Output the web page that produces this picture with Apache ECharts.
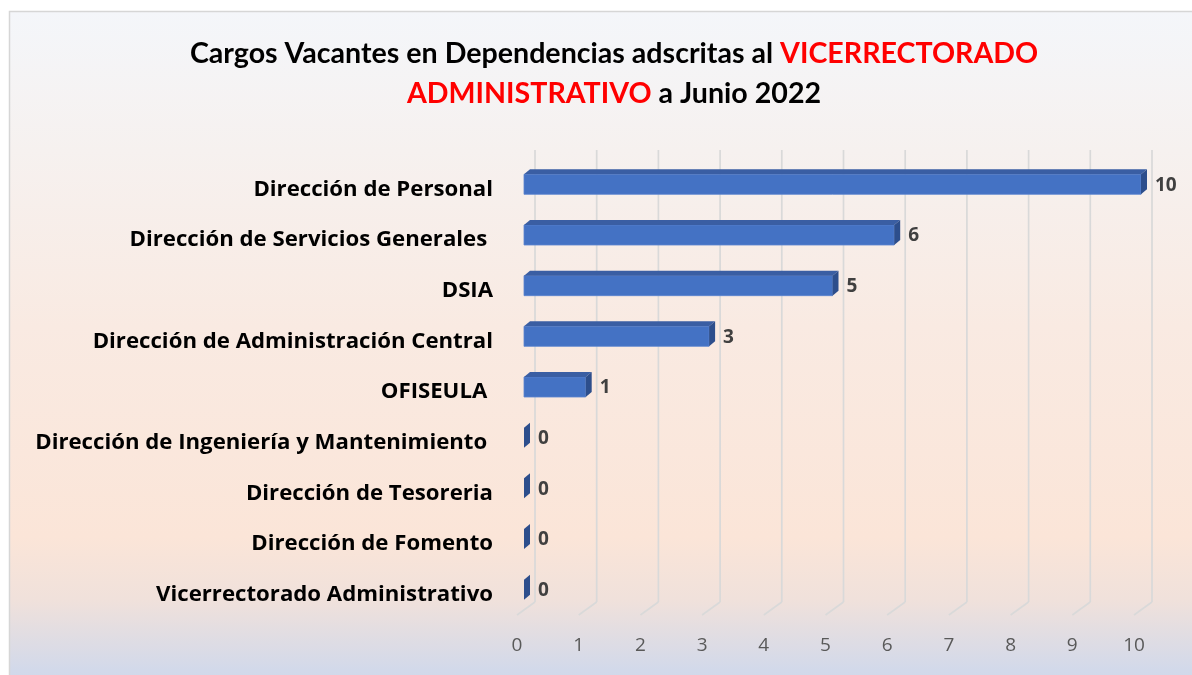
<!DOCTYPE html>
<html>
<head>
<meta charset="utf-8">
<script src="https://cdn.jsdelivr.net/npm/echarts@6/dist/echarts.min.js"></script>
<style>
  html, body { margin: 0; padding: 0; background: #fff; overflow: hidden; }
  #chart { width: 1192px; height: 675px; }
</style>
</head>
<body>
<div id="chart"></div>
<script>
const categories = [
    "Dirección de Personal",
    "Dirección de Servicios Generales ",
    "DSIA",
    "Dirección de Administración Central",
    "OFISEULA ",
    "Dirección de Ingeniería y Mantenimiento ",
    "Dirección de Tesoreria",
    "Dirección de Fomento",
    "Vicerrectorado Administrativo"
];
const vacantes = [10, 6, 5, 3, 1, 0, 0, 0, 0];
const xTicks = [0, 1, 2, 3, 4, 5, 6, 7, 8, 9, 10];

// 3d look
const DEPTH_X = 18, DEPTH_Y = 13;   // wall depth
const BAR_DX = 7;                   // bar sits a little inside the floor
const BAR_H = 20, BAR_OX = 6, BAR_OY = 5;

const chart = echarts.init(document.getElementById("chart"));

const renderGrid = (params, api) => {
    const cs = params.coordSys;
    const x = api.coord([api.value(0), categories[0]])[0];
    const yFront = cs.y + cs.height;
    const style = { stroke: "#D9D9D9", lineWidth: 1.7, fill: null };
    return {
        type: "group",
        children: [
            {
                type: "line",
                shape: { x1: x + DEPTH_X, y1: cs.y - 9, x2: x + DEPTH_X, y2: yFront - DEPTH_Y },
                style
            },
            {
                type: "line",
                shape: { x1: x + DEPTH_X, y1: yFront - DEPTH_Y, x2: x, y2: yFront },
                style
            }
        ]
    };
};

const renderBar = (params, api) => {
    const cat = api.value(1);
    const p0 = api.coord([0, cat]);
    const p1 = api.coord([api.value(0), cat]);
    const xl = p0[0] + BAR_DX;
    const xr = p1[0] + BAR_DX;
    const yt = p0[1] - BAR_H / 2;
    const yb = p0[1] + BAR_H / 2;
    const children = [];
    if (xr > xl) {
        children.push({
            type: "rect",
            shape: { x: xl, y: yt, width: xr - xl, height: BAR_H },
            style: { fill: "#4472C4", stroke: "#5B84CF", lineWidth: 0.8 }
        });
        children.push({
            type: "polygon",
            shape: { points: [[xl, yt], [xl + BAR_OX, yt - BAR_OY], [xr + BAR_OX, yt - BAR_OY], [xr, yt]] },
            style: { fill: "#3A5EA3" }
        });
    }
    children.push({
        type: "polygon",
        shape: { points: [[xr, yt], [xr + BAR_OX, yt - BAR_OY], [xr + BAR_OX, yb - BAR_OY], [xr, yb]] },
        style: { fill: "#2D4E8C" }
    });
    children.push({
        type: "text",
        style: {
            x: xr + BAR_OX + 8,
            y: p0[1] + 1,
            text: String(api.value(0)),
            fill: "#404040",
            font: "bold 19px 'Open Sans'",
            verticalAlign: "middle",
            align: "left"
        }
    });
    return { type: "group", children };
};

chart.setOption({
    animation: false,
    graphic: [
        {
            type: "rect",
            z: -10,
            silent: true,
            shape: { x: 9.5, y: 11.5, width: 1200, height: 700 },
            style: {
                stroke: "#D6D6D6",
                lineWidth: 1.5,
                fill: new echarts.graphic.LinearGradient(0, 0, 0, 1, [
                    { offset: 0, color: "#F4F6FA" },
                    { offset: 0.2, color: "#F6F1EF" },
                    { offset: 0.45, color: "#F9EAE2" },
                    { offset: 0.75, color: "#FBE5D8" },
                    { offset: 0.84, color: "#F0E1DB" },
                    { offset: 0.94, color: "#D2D9EA" },
                    { offset: 1, color: "#CDD6EA" }
                ])
            }
        }
    ],
    title: {
        left: 609,
        top: 29,
        textAlign: "center",
        text: "{b|Cargos Vacantes en Dependencias adscritas al }{r|VICERRECTORADO}\n{r|ADMINISTRATIVO}{b| a Junio 2022}",
        textStyle: {
            rich: {
                b: { fontFamily: "Lato", fontWeight: "bold", fontSize: 28.6, color: "#000", lineHeight: 40 },
                r: { fontFamily: "Lato", fontWeight: "bold", fontSize: 28.6, color: "#FF0000", lineHeight: 40 }
            }
        }
    },
    grid: { left: 517, right: 58, top: 159, bottom: 60 },
    xAxis: {
        type: "value",
        min: 0,
        max: 10,
        interval: 1,
        axisLine: { show: false },
        axisTick: { show: false },
        splitLine: { show: false },
        axisLabel: { color: "#595959", fontFamily: "Open Sans", fontSize: 19, margin: 21 }
    },
    yAxis: {
        type: "category",
        inverse: true,
        data: categories,
        axisLine: { show: false },
        axisTick: { show: false },
        axisLabel: {
            color: "#000",
            fontFamily: "Open Sans",
            fontWeight: "bold",
            fontSize: 22.2,
            margin: 24,
            verticalAlign: "top",
            lineHeight: 10
        }
    },
    series: [
        {
            type: "custom",
            silent: true,
            z: 1,
            data: xTicks.map(v => [v, categories[0]]),
            renderItem: renderGrid
        },
        {
            type: "custom",
            z: 5,
            data: vacantes.map((v, i) => [v, categories[i]]),
            renderItem: renderBar
        }
    ]
});
</script>
</body>
</html>
